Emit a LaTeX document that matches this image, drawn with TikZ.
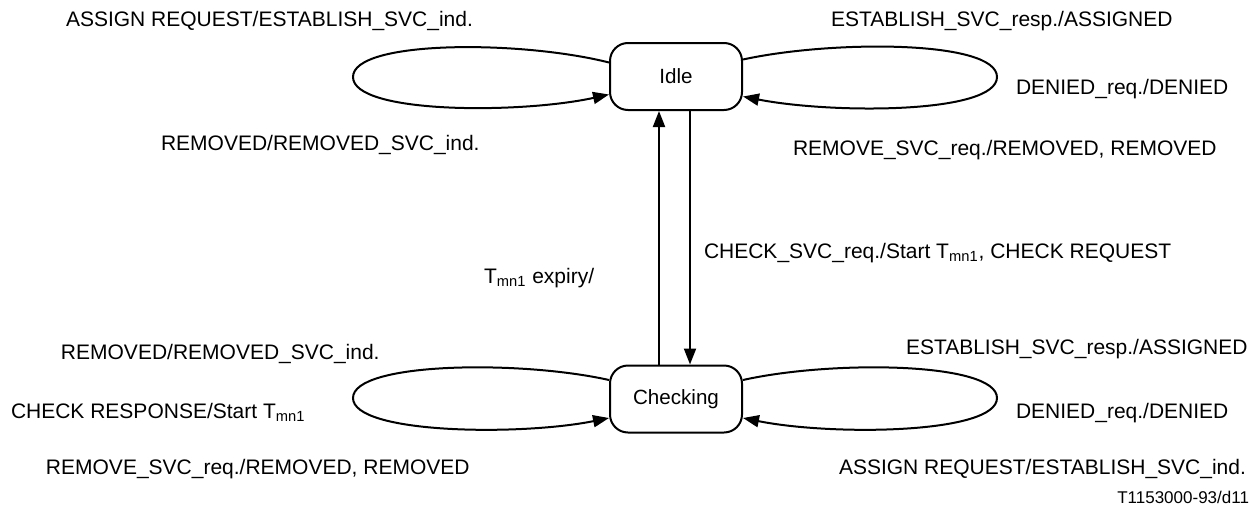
\documentclass[tikz,border=0pt]{standalone}
\usepackage{fontspec}
\setmainfont{Liberation Sans}
\usetikzlibrary{arrows.meta}

\begin{document}
\begin{tikzpicture}
            [
                x=0.5pt, y=-0.5pt,
                state/.style={draw, rounded corners=9pt, minimum width=66pt,
                    minimum height=33.5pt, font=\fontsize{10.3}{12}\selectfont},
                lbl/.style={anchor=base west, inner sep=0pt,
                    font=\fontsize{10.5}{12}\selectfont},
                ->, >={Triangle[length=8pt, width=6pt]}, line width=1pt
            ]
            \useasboundingbox (0,0) rectangle (1259,509);
            \node [state] (idle) at (676,76.5) {Idle};
            \node [state] (checking) at (676,399) {Checking};

            % loops on Idle
            \draw ([yshift=7pt]idle.west) .. controls (520,40) and (353,40) .. (353,77)
                .. controls (353,114) and (520,114) .. ([yshift=-9pt]idle.west);
            \draw ([yshift=8.5pt]idle.east) .. controls (832,40) and (997,40) .. (997,77)
                .. controls (997,114) and (832,114) .. ([yshift=-10pt]idle.east);
            % loops on Checking
            \draw ([yshift=9.5pt]checking.west) .. controls (520,360) and (353,362) .. (353,398)
                .. controls (353,434) and (520,436) .. ([yshift=-9.5pt]checking.west);
            \draw ([yshift=9.5pt]checking.east) .. controls (832,360) and (997,362) .. (997,398)
                .. controls (997,434) and (832,436) .. ([yshift=-9.5pt]checking.east);

            \draw ([xshift=-8.5pt]checking.north) -- ([xshift=-8.5pt]idle.south);
            \draw ([xshift=7pt]idle.south) -- ([xshift=7pt]checking.north);

            \node [lbl] (l1) at (65,26) {ASSIGN REQUEST/ESTABLISH\_SVC\_ind.};
            \node [lbl] (l2) at (160,150) {REMOVED/REMOVED\_SVC\_ind.};
            \node [lbl] (l3) at (830,26) {ESTABLISH\_SVC\_resp./ASSIGNED};
            \node [lbl] (l4) at (1015,94) {DENIED\_req./DENIED};
            \node [lbl] (l5) at (792,155) {REMOVE\_SVC\_req./REMOVED, REMOVED};
            \node [lbl] (l6) at (703,258) {CHECK\_SVC\_req./Start T\textsubscript{mn1}, CHECK REQUEST};
            \node [lbl] (l7) at (483,283) {T\textsubscript{mn1} expiry/};
            \node [lbl] (l8) at (60,359) {REMOVED/REMOVED\_SVC\_ind.};
            \node [lbl] (l9) at (10,418) {CHECK RESPONSE/Start T\textsubscript{mn1}};
            \node [lbl] (l10) at (45,474) {REMOVE\_SVC\_req./REMOVED, REMOVED};
            \node [lbl] (l11) at (905,354) {ESTABLISH\_SVC\_resp./ASSIGNED};
            \node [lbl] (l12) at (1015,418) {DENIED\_req./DENIED};
            \node [lbl] (l13) at (838,474) {ASSIGN REQUEST/ESTABLISH\_SVC\_ind.};
            \node [lbl, anchor=base east, font=\fontsize{8.5}{10}\selectfont] (ref) at (1250,503) {T1153000-93/d11};
        \end{tikzpicture}
\end{document}
